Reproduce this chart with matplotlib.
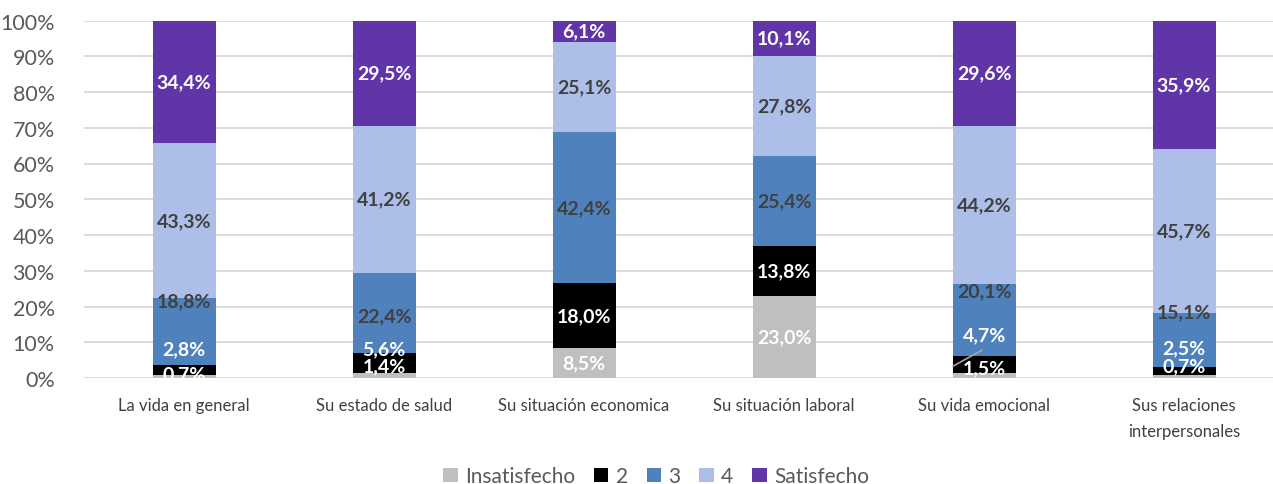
import numpy as np
import matplotlib
matplotlib.use("Agg")
from matplotlib import pyplot as plt
from matplotlib.ticker import PercentFormatter

plt.rcParams['font.family'] = ['Lato', 'DejaVu Sans']

categories = ["La vida en general", "Su estado de salud", "Su situación economica",
              "Su situación laboral", "Su vida emocional", "Sus relaciones\ninterpersonales"]
series = ["Insatisfecho", "2", "3", "4", "Satisfecho"]

insatisfecho = [0.7, 1.4, 8.5, 23.0, 1.5, 0.7]
nivel2 = [2.8, 5.6, 18.0, 13.8, 4.7, 2.5]
nivel3 = [18.8, 22.4, 42.4, 25.4, 20.1, 15.1]
nivel4 = [43.3, 41.2, 25.1, 27.8, 44.2, 45.7]
satisfecho = [34.4, 29.5, 6.1, 10.1, 29.6, 35.9]

colores = ["#BFBFBF", "#000000", "#4F81BD", "#ADBFE8", "#6035A8"]
color_texto = ["white", "white", "#404040", "#404040", "white"]

# etiquetas que Excel movió porque no caben (serie, barra) -> altura en %
mover = {(0, 0): 1.1, (1, 0): 8.1, (2, 0): 21.5,
         (0, 1): 3.4, (1, 1): 8.1, (2, 1): 17.3,
         (0, 4): 3.0, (1, 4): 12.0, (2, 4): 24.3,
         (0, 5): 3.4, (1, 5): 8.4, (2, 5): 18.4}

fig = plt.figure(figsize=(12.73, 4.85), dpi=100)
ax = fig.add_axes([84 / 1273, 106 / 485, 1200 / 1273, 357.5 / 485])

x = np.arange(len(categories))
datos = [insatisfecho, nivel2, nivel3, nivel4, satisfecho]
base = np.zeros(len(categories))
for i, vals in enumerate(datos):
    vals = np.array(vals)
    ax.bar(x, vals, 0.315, bottom=base, color=colores[i], label=series[i], zorder=2)
    for j, v in enumerate(vals):
        yy = mover.get((i, j), base[j] + v / 2)
        ax.text(x[j], yy, f"{v:.1f}%".replace(".", ","), ha="center", va="center",
                fontsize=14, fontweight="bold", color=color_texto[i], zorder=4)
    base += vals

# linea guía de la etiqueta 1,5%
ax.plot([4 - 0.155, 4 - 0.01], [3.3, 7.8], color="#A6A6A6", lw=1.2, zorder=3)

ax.set_xlim(-0.5, 5.5)
ax.set_ylim(0, 100)
ax.set_yticks(np.arange(0, 101, 10))
ax.yaxis.set_major_formatter(PercentFormatter(decimals=0))
ax.grid(axis="y", color="#D9D9D9", lw=1.3, zorder=0)
for s in ax.spines.values():
    s.set_visible(False)
ax.tick_params(axis="both", length=0, colors="#595959")
ax.tick_params(axis="y", labelsize=15.5, pad=21)
ax.set_xticks(x)
ax.set_xticklabels(categories, fontsize=12, color="#404040", linespacing=1.7)
ax.tick_params(axis="x", pad=14)

ax.legend(loc="center", bbox_to_anchor=(572 / 1200, -0.275), ncol=5, frameon=False,
          fontsize=15, handlelength=0.7, handleheight=0.7, handletextpad=0.35,
          columnspacing=0.9, labelcolor="#595959")

fig.savefig("out.png", dpi=100)
